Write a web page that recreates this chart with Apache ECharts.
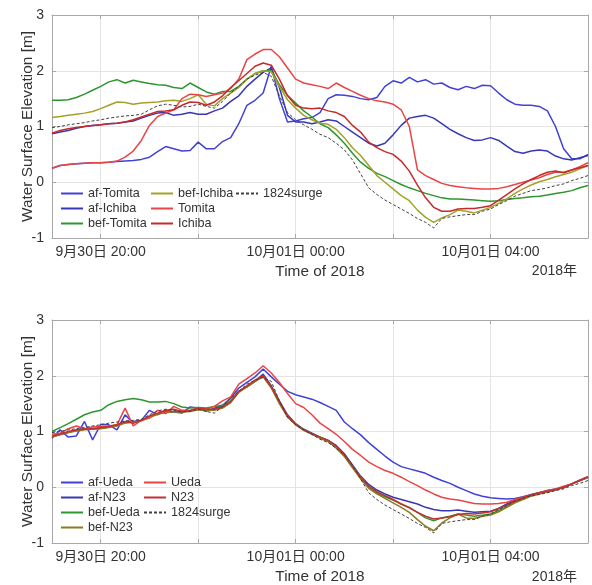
<!DOCTYPE html>
<html><head><meta charset="utf-8">
<script src="https://cdn.jsdelivr.net/npm/echarts@6/dist/echarts.min.js"></script>
<style>html,body{margin:0;padding:0;background:#fff}#c{width:592px;height:585px}</style>
</head><body><div id="c"></div>
<script>
// ---- categories: 10-minute steps from 09-30 19:00 to 10-01 06:00 ----
const timeCats = [];
for (let k = 0; k <= 66; k++) {
  const m = 19 * 60 + k * 10;
  const h = Math.floor(m / 60) % 24, mm = m % 60;
  timeCats.push((h < 10 ? '0' : '') + h + ':' + (mm < 10 ? '0' : '') + mm);
}
const xTickLabels = {6: '9月30日 20:00', 30: '10月01日 00:00', 54: '10月01日 04:00'};
const yMin = -1, yMax = 3, yStep = 1;
const yTitle = 'Water Surface Elevation [m]', xTitle = 'Time of 2018', yearLabel = '2018年';

// ---- top panel series ----
const afTomita = [0.25,0.3,0.32,0.33,0.34,0.35,0.35,0.36,0.37,0.38, 0.39,0.41,0.45,0.55,0.64,0.6,0.56,0.57,0.72,0.6, 0.6,0.73,0.8,1.05,1.38,1.47,1.6,2.08,1.5,1.08, 1.1,1.14,1.16,1.25,1.5,1.57,1.56,1.54,1.5,1.48, 1.52,1.72,1.82,1.78,1.88,1.8,1.84,1.76,1.78,1.7, 1.66,1.72,1.68,1.74,1.73,1.6,1.48,1.4,1.38,1.38, 1.36,1.28,1.0,0.6,0.42,0.42,0.5];
const afIchiba = [0.87,0.9,0.93,0.97,1.0,1.02,1.03,1.05,1.06,1.08, 1.1,1.15,1.2,1.24,1.25,1.2,1.22,1.25,1.22,1.22, 1.28,1.33,1.45,1.55,1.72,1.85,1.97,2.05,1.7,1.2, 1.08,1.08,1.05,1.08,1.12,1.1,1.0,0.9,0.8,0.7, 0.65,0.7,0.85,1.02,1.15,1.18,1.2,1.15,1.05,0.95, 0.87,0.8,0.75,0.76,0.8,0.75,0.65,0.55,0.52,0.56, 0.58,0.56,0.47,0.42,0.4,0.44,0.48];
const befTomita = [1.47,1.47,1.48,1.52,1.58,1.65,1.72,1.8,1.84,1.78, 1.83,1.8,1.77,1.75,1.74,1.7,1.68,1.78,1.7,1.62, 1.58,1.63,1.63,1.72,1.85,1.95,2.0,2.0,1.75,1.56, 1.42,1.28,1.17,1.05,0.98,0.85,0.7,0.52,0.36,0.25, 0.16,0.1,0.03,-0.04,-0.1,-0.15,-0.2,-0.24,-0.28,-0.3, -0.3,-0.31,-0.32,-0.33,-0.34,-0.33,-0.31,-0.29,-0.28,-0.26, -0.25,-0.23,-0.2,-0.18,-0.15,-0.1,-0.06];
const befIchiba = [1.16,1.18,1.2,1.22,1.24,1.27,1.32,1.38,1.44,1.43, 1.4,1.42,1.43,1.44,1.46,1.47,1.45,1.5,1.57,1.4, 1.37,1.5,1.6,1.7,1.85,1.95,2.0,1.98,1.72,1.48, 1.33,1.2,1.12,1.06,1.04,0.95,0.8,0.62,0.48,0.3, 0.12,0.0,-0.12,-0.24,-0.33,-0.5,-0.63,-0.72,-0.64,-0.58, -0.5,-0.52,-0.55,-0.5,-0.45,-0.38,-0.3,-0.2,-0.12,-0.05, 0.01,0.05,0.1,0.14,0.18,0.24,0.3];
const tomita = [0.25,0.3,0.32,0.33,0.34,0.35,0.35,0.36,0.38,0.45, 0.56,0.75,1.02,1.18,1.24,1.3,1.5,1.58,1.57,1.54, 1.57,1.6,1.68,1.85,2.2,2.3,2.38,2.38,2.25,2.05, 1.85,1.78,1.75,1.72,1.68,1.78,1.7,1.63,1.56,1.5, 1.46,1.44,1.4,1.3,1.0,0.22,0.12,0.05,-0.02,-0.06, -0.08,-0.1,-0.11,-0.12,-0.12,-0.11,-0.08,-0.04,0.0,0.04, 0.08,0.14,0.18,0.18,0.22,0.28,0.35];
const ichiba = [0.88,0.93,0.96,0.98,1.0,1.02,1.03,1.05,1.06,1.08, 1.12,1.17,1.22,1.27,1.28,1.3,1.38,1.44,1.43,1.38, 1.44,1.55,1.7,1.82,1.95,2.08,2.14,2.1,1.85,1.55, 1.38,1.33,1.32,1.33,1.28,1.25,1.18,1.02,0.9,0.72, 0.62,0.55,0.5,0.38,0.2,-0.05,-0.28,-0.45,-0.52,-0.52, -0.48,-0.47,-0.47,-0.45,-0.42,-0.32,-0.22,-0.12,-0.03,0.05, 0.12,0.18,0.2,0.17,0.22,0.26,0.3];
const surge1824 = [0.98,1.0,1.03,1.05,1.07,1.1,1.12,1.15,1.17,1.19, 1.2,1.22,1.3,1.37,1.4,1.38,1.35,1.36,1.4,1.36, 1.33,1.45,1.6,1.72,1.85,1.92,1.97,1.9,1.55,1.25, 1.12,1.03,0.95,0.86,0.8,0.7,0.58,0.4,0.15,-0.1, -0.22,-0.32,-0.4,-0.48,-0.56,-0.65,-0.72,-0.82,-0.65,-0.62, -0.6,-0.58,-0.58,-0.52,-0.48,-0.4,-0.33,-0.25,-0.2,-0.15, -0.13,-0.1,-0.06,-0.03,0.03,0.07,0.12];

// ---- bottom panel series ----
const afUeda = [0.88,1.03,0.9,0.92,1.18,0.85,1.13,1.12,1.03,1.3, 1.15,1.2,1.38,1.3,1.38,1.35,1.33,1.44,1.42,1.36, 1.42,1.47,1.6,1.78,1.88,1.98,2.12,1.98,1.85,1.72, 1.66,1.62,1.58,1.52,1.45,1.38,1.17,1.05,0.94,0.8, 0.68,0.56,0.45,0.37,0.33,0.29,0.25,0.18,0.12,0.07, 0.0,-0.06,-0.12,-0.16,-0.19,-0.2,-0.21,-0.2,-0.17,-0.13, -0.1,-0.06,-0.03,-0.01,0.06,0.13,0.19];
const afN23 = [0.9,0.95,0.98,1.02,1.04,1.05,1.06,1.08,1.12,1.17, 1.18,1.2,1.26,1.32,1.35,1.36,1.36,1.37,1.4,1.38, 1.4,1.45,1.55,1.72,1.8,1.9,2.03,1.82,1.55,1.3, 1.14,1.04,0.97,0.9,0.84,0.75,0.6,0.4,0.2,0.05, -0.05,-0.12,-0.18,-0.22,-0.26,-0.3,-0.36,-0.4,-0.42,-0.42, -0.41,-0.43,-0.45,-0.44,-0.43,-0.38,-0.3,-0.23,-0.18,-0.14, -0.1,-0.08,-0.04,0.0,0.06,0.12,0.18];
const befUeda = [1.0,1.07,1.14,1.22,1.3,1.35,1.38,1.48,1.54,1.57, 1.59,1.57,1.53,1.53,1.54,1.5,1.44,1.42,1.43,1.42, 1.45,1.47,1.55,1.72,1.8,1.9,2.0,1.8,1.52,1.28, 1.13,1.03,0.96,0.9,0.84,0.73,0.58,0.38,0.18,0.0, -0.1,-0.17,-0.23,-0.3,-0.36,-0.45,-0.55,-0.6,-0.55,-0.52, -0.48,-0.5,-0.52,-0.5,-0.48,-0.42,-0.35,-0.27,-0.2,-0.14, -0.1,-0.08,-0.04,0.0,0.06,0.12,0.18];
const befN23 = [0.9,0.94,0.98,1.01,1.03,1.04,1.05,1.07,1.1,1.15, 1.17,1.19,1.25,1.31,1.34,1.35,1.35,1.36,1.39,1.38, 1.38,1.42,1.52,1.7,1.8,1.9,1.98,1.78,1.5,1.26, 1.12,1.02,0.95,0.88,0.82,0.7,0.55,0.35,0.15,-0.02, -0.12,-0.2,-0.28,-0.36,-0.45,-0.58,-0.7,-0.78,-0.64,-0.55, -0.48,-0.55,-0.56,-0.52,-0.5,-0.44,-0.36,-0.28,-0.22,-0.16, -0.12,-0.08,-0.05,0.0,0.06,0.12,0.18];
const ueda = [0.95,0.97,1.05,1.1,1.05,1.08,1.09,1.1,1.12,1.42, 1.1,1.2,1.24,1.38,1.32,1.45,1.38,1.38,1.42,1.4, 1.45,1.55,1.62,1.85,1.95,2.05,2.18,2.05,1.88,1.68, 1.5,1.43,1.3,1.15,1.05,0.95,0.82,0.68,0.57,0.45, 0.37,0.3,0.25,0.18,0.1,0.03,-0.05,-0.12,-0.18,-0.21, -0.23,-0.26,-0.29,-0.3,-0.3,-0.29,-0.27,-0.22,-0.18,-0.14, -0.1,-0.06,-0.03,0.02,0.06,0.12,0.18];
const n23 = [0.92,0.95,1.0,1.03,1.04,1.05,1.07,1.09,1.12,1.18, 1.15,1.2,1.28,1.33,1.38,1.4,1.36,1.37,1.42,1.4, 1.4,1.44,1.53,1.72,1.82,1.92,2.0,1.8,1.53,1.28, 1.13,1.03,0.96,0.9,0.84,0.74,0.58,0.38,0.18,0.02, -0.08,-0.15,-0.22,-0.3,-0.37,-0.45,-0.52,-0.57,-0.55,-0.53, -0.49,-0.47,-0.48,-0.46,-0.44,-0.38,-0.32,-0.25,-0.19,-0.14, -0.1,-0.07,-0.04,0.0,0.06,0.12,0.19];

const FONT = 'Liberation Sans, Arial, Noto Sans CJK JP, sans-serif';
const TXT = '#333333', FRAME = '#a8a8a8', GRID = '#e4e4e4';
const tickInt = (i) => i > 0 && (i - 6) % 12 === 0;
const labelInt = (i) => xTickLabels[i] !== undefined;

function xAxesFor(g) {
  return [
    {type:'category', gridIndex:g, data:timeCats, boundaryGap:false, position:'bottom',
     axisLine:{onZero:false, lineStyle:{color:FRAME}},
     axisTick:{inside:true, length:4, interval:tickInt, lineStyle:{color:FRAME}},
     axisLabel:{interval:labelInt, formatter:(v, i) => xTickLabels[i] || '', color:TXT, fontSize:14, fontFamily:FONT, margin:7},
     splitLine:{show:true, interval:tickInt, lineStyle:{color:GRID, width:1}},
     name:xTitle, nameLocation:'middle', nameGap:26,
     nameTextStyle:{color:TXT, fontSize:15.4, fontFamily:FONT}},
    {type:'category', gridIndex:g, data:timeCats, boundaryGap:false, position:'top',
     axisLine:{onZero:false, lineStyle:{color:FRAME}},
     axisTick:{inside:true, length:4, interval:tickInt, lineStyle:{color:FRAME}},
     axisLabel:{show:false}, splitLine:{show:false}}
  ];
}
function yAxesFor(g) {
  return [
    {type:'value', gridIndex:g, min:yMin, max:yMax, interval:yStep, position:'left',
     axisLine:{show:true, lineStyle:{color:FRAME}},
     axisTick:{show:true, inside:true, length:4, lineStyle:{color:FRAME}},
     axisLabel:{color:TXT, fontSize:14, fontFamily:FONT, margin:8},
     splitLine:{show:true, lineStyle:{color:GRID, width:1}}},
    {type:'value', gridIndex:g, min:yMin, max:yMax, interval:yStep, position:'right',
     axisLine:{show:true, lineStyle:{color:FRAME}},
     axisTick:{show:true, inside:true, length:4, lineStyle:{color:FRAME}},
     axisLabel:{show:false}, splitLine:{show:false}}
  ];
}

function mk(name, data, color, g, dashed) {
  return {type:'line', name, data, xAxisIndex:g*2, yAxisIndex:g*2, symbol:'none', smooth:false,
    lineStyle:{color, width: dashed ? 1 : 1.5, type: dashed ? [3,2] : 'solid'},
    itemStyle:{color}, emphasis:{disabled:true}, silent:true, animation:false};
}

const series = [
  mk('af-Tomita', afTomita, '#4141d8', 0),
  mk('af-Ichiba', afIchiba, '#3838b4', 0),
  mk('bef-Tomita', befTomita, '#2f962f', 0),
  mk('bef-Ichiba', befIchiba, '#a2a228', 0),
  mk('Tomita', tomita, '#ea4545', 0),
  mk('Ichiba', ichiba, '#c62a2a', 0),
  mk('1824surge', surge1824, '#404040', 0, true),
  mk('af-Ueda', afUeda, '#4141d8', 1),
  mk('af-N23', afN23, '#3838b4', 1),
  mk('bef-Ueda', befUeda, '#2f962f', 1),
  mk('bef-N23', befN23, '#8c7b1f', 1),
  mk('Ueda', ueda, '#ea4545', 1),
  mk('N23', n23, '#c43030', 1),
  mk('1824surge', surge1824, '#404040', 1, true)
];

function lg(left, top, data) {
  return {left, top, orient:'vertical', data, padding:0, itemGap:2, itemWidth:22, itemHeight:13,
    selectedMode:false, itemStyle:{opacity:0},
    textStyle:{color:TXT, fontSize:12.6, fontFamily:FONT, lineHeight:13}};
}
function yTitleText(cy) {
  return {type:'text', x:28, y:cy, rotation:Math.PI / 2, silent:true,
    style:{text:yTitle, fill:TXT, font:'15.4px ' + FONT, align:'center', verticalAlign:'middle'}};
}

const chart = echarts.init(document.getElementById('c'), null, {renderer:'canvas'});
chart.setOption({
  backgroundColor:'#ffffff',
  animation:false,
  grid:[
    {left:52, top:15, width:536, height:223, outerBoundsMode:'none', containLabel:false},
    {left:52, top:320, width:536, height:223, outerBoundsMode:'none', containLabel:false}
  ],
  xAxis:[...xAxesFor(0), ...xAxesFor(1)],
  yAxis:[...yAxesFor(0), ...yAxesFor(1)],
  legend:[
    lg(60, 187, ['af-Tomita','af-Ichiba','bef-Tomita']),
    lg(150, 187, ['bef-Ichiba','Tomita','Ichiba']),
    lg(235, 187, ['1824surge']),
    lg(60, 476, ['af-Ueda','af-N23','bef-Ueda','bef-N23']),
    lg(143, 476, ['Ueda','N23','1824surge'])
  ],
  graphic:[
    yTitleText(126.5),
    yTitleText(431.5),
    {type:'text', right:15, top:264, style:{text:yearLabel, fill:TXT, font:'14px ' + FONT}},
    {type:'text', right:15, top:570, style:{text:yearLabel, fill:TXT, font:'14px ' + FONT}}
  ],
  series
});
</script></body></html>
